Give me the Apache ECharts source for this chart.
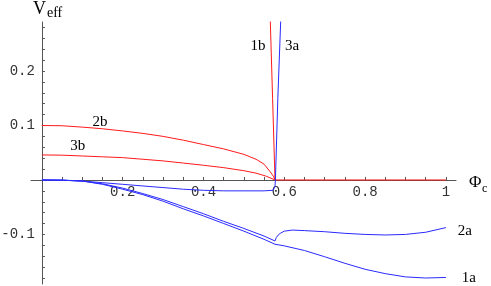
<!DOCTYPE html>
<html><head><meta charset="utf-8">
<script src="https://cdn.jsdelivr.net/npm/echarts@6/dist/echarts.min.js"></script>
<style>html,body{margin:0;padding:0;background:#fff}#c{width:491px;height:286px}</style>
</head><body><div id="c"></div>
<script>
// ---- data ----
var x2b = [0, 0.05, 0.1, 0.15, 0.2, 0.25, 0.3, 0.35, 0.4, 0.45, 0.5, 0.53, 0.55, 0.565, 0.573, 0.577, 0.6, 0.8, 1.0];
var y2b = [0.100, 0.0995, 0.097, 0.094, 0.090, 0.0855, 0.080, 0.073, 0.065, 0.057, 0.047, 0.038, 0.029, 0.015, 0.007, 0, 0, 0, 0];
var x3b = [0, 0.05, 0.1, 0.15, 0.2, 0.25, 0.3, 0.35, 0.4, 0.45, 0.5, 0.53, 0.555, 0.577];
var y3b = [0.046, 0.0455, 0.044, 0.0425, 0.041, 0.038, 0.035, 0.031, 0.027, 0.0226, 0.017, 0.0125, 0.007, 0];
var x1b = [0.577, 0.571, 0.565];
var y1b = [0, 0.15, 0.30];
var x3a = [0, 0.05, 0.1, 0.15, 0.2, 0.25, 0.3, 0.35, 0.4, 0.45, 0.5, 0.55, 0.572, 0.577, 0.578, 0.584, 0.5915];
var y3a = [0, -0.0005, -0.002, -0.005, -0.008, -0.011, -0.014, -0.017, -0.019, -0.020, -0.020, -0.020, -0.019, -0.012, 0, 0.15, 0.30];
var x1a = [0, 0.05, 0.1, 0.15, 0.2, 0.25, 0.3, 0.35, 0.4, 0.45, 0.5, 0.55, 0.577, 0.6, 0.65, 0.7, 0.75, 0.8, 0.85, 0.9, 0.95, 1.0];
var y1a = [0, -0.0003, -0.002, -0.008, -0.017, -0.027, -0.039, -0.053, -0.066, -0.080, -0.094, -0.109, -0.118, -0.121, -0.1295, -0.141, -0.153, -0.164, -0.172, -0.178, -0.180, -0.179];
var x2a = [0, 0.05, 0.1, 0.15, 0.2, 0.25, 0.3, 0.35, 0.4, 0.45, 0.5, 0.55, 0.577, 0.58, 0.585, 0.59, 0.6, 0.62, 0.65, 0.7, 0.75, 0.8, 0.85, 0.9, 0.95, 1.0];
var y2a = [0, -0.0003, -0.002, -0.007, -0.015, -0.025, -0.036, -0.049, -0.062, -0.076, -0.089, -0.103, -0.112, -0.106, -0.101, -0.098, -0.094, -0.092, -0.093, -0.095, -0.098, -0.100, -0.101, -0.100, -0.096, -0.0875];

var xLabelValues = [0.2, 0.4, 0.6, 0.8, 1];
var yLabelValues = [-0.1, 0.1, 0.2];
var xTickValues = [0.05,0.1,0.15,0.2,0.25,0.3,0.35,0.4,0.45,0.5,0.55,0.6,0.65,0.7,0.75,0.8,0.85,0.9,0.95,1.0];
var yTickValues = [-0.18,-0.16,-0.14,-0.12,-0.1,-0.08,-0.06,-0.04,-0.02,0.02,0.04,0.06,0.08,0.1,0.12,0.14,0.16,0.18,0.2,0.22,0.24,0.26,0.28];

var curveLabels = [
  {t: '2b', x: 0.1436, y: 0.1064},
  {t: '3b', x: 0.089, y: 0.0624},
  {t: '1b', x: 0.535, y: 0.246},
  {t: '3a', x: 0.619, y: 0.246},
  {t: '2a', x: 1.047, y: -0.0936},
  {t: '1a', x: 1.057, y: -0.180}
];

function zip(xs, ys) { return xs.map(function (v, i) { return [v, ys[i]]; }); }
var RED = '#ff1a1a', BLUE = '#2a2aff';
function line(name, xs, ys, color) {
  return { name: name, type: 'line', data: zip(xs, ys), showSymbol: false, symbol: 'none',
    lineStyle: { color: color, width: 1 }, clip: true, animation: false, z: 3 };
}

var chart = echarts.init(document.getElementById('c'), null, { renderer: 'canvas' });
var axisCol = '#555';
var X_MIN = -0.027, X_MAX = 1.025, Y_MIN = -0.191, Y_MAX = 0.29;
var GRID = { left: 31, right: 35, top: 22, bottom: 2 };
// labels stay at the grid edge in this version; shift them onto the zero lines
var plotW = 491 - GRID.left - GRID.right, plotH = 286 - GRID.top - GRID.bottom;
var yZeroFromBottom = (0 - Y_MIN) / (Y_MAX - Y_MIN) * plotH;
var xZeroFromLeft = (0 - X_MIN) / (X_MAX - X_MIN) * plotW;

chart.setOption({
  animation: false,
  backgroundColor: '#fff',
  grid: { left: GRID.left, right: GRID.right, top: GRID.top, bottom: GRID.bottom, containLabel: false, outerBoundsMode: 'none' },
  xAxis: {
    type: 'value', min: X_MIN, max: X_MAX,
    axisLine: { onZero: true, lineStyle: { color: axisCol, width: 1 } },
    axisTick: { show: true, inside: true, length: 3, customValues: xTickValues, lineStyle: { color: axisCol } },
    axisLabel: { customValues: xLabelValues, margin: 5 - yZeroFromBottom, color: '#333',
      fontFamily: 'Liberation Mono', fontSize: 14, formatter: function (v) { return String(+v.toFixed(2)); } },
    splitLine: { show: false }
  },
  yAxis: {
    type: 'value', min: Y_MIN, max: Y_MAX,
    axisLine: { onZero: true, lineStyle: { color: axisCol, width: 1 } },
    axisTick: { show: true, inside: true, length: 3, customValues: yTickValues, lineStyle: { color: axisCol } },
    axisLabel: { customValues: yLabelValues, margin: 7 - xZeroFromLeft, color: '#333',
      fontFamily: 'Liberation Mono', fontSize: 14, formatter: function (v) { return String(+v.toFixed(2)); } },
    splitLine: { show: false }
  },
  series: [
    line('2b', x2b, y2b, RED),
    line('3b', x3b, y3b, RED),
    line('1b', x1b, y1b, RED),
    line('3a', x3a, y3a, BLUE),
    line('1a', x1a, y1a, BLUE),
    line('2a', x2a, y2a, BLUE)
  ]
});

var g = curveLabels.map(function (c) {
  var p = chart.convertToPixel({ gridIndex: 0 }, [c.x, c.y]);
  return { type: 'text', x: p[0], y: p[1], z: 10,
    style: { text: c.t, font: '15px "Liberation Serif"', fill: '#000', align: 'center', verticalAlign: 'middle' } };
});
g.push({ type: 'text', x: 33, y: 0, z: 10, style: { text: 'V', font: '18px "Liberation Serif"', fill: '#000', align: 'left', verticalAlign: 'top' } });
g.push({ type: 'text', x: 47, y: 6, z: 10, style: { text: 'eff', font: '14px "Liberation Serif"', fill: '#000', align: 'left', verticalAlign: 'top' } });
g.push({ type: 'text', x: 469, y: 174, z: 10, style: { text: 'Φ', font: '17px "Liberation Serif"', fill: '#000', align: 'left', verticalAlign: 'top' } });
g.push({ type: 'text', x: 482, y: 183, z: 10, style: { text: 'c', font: '12px "Liberation Serif"', fill: '#000', align: 'left', verticalAlign: 'top' } });
chart.setOption({ graphic: g });
</script>
</body></html>
